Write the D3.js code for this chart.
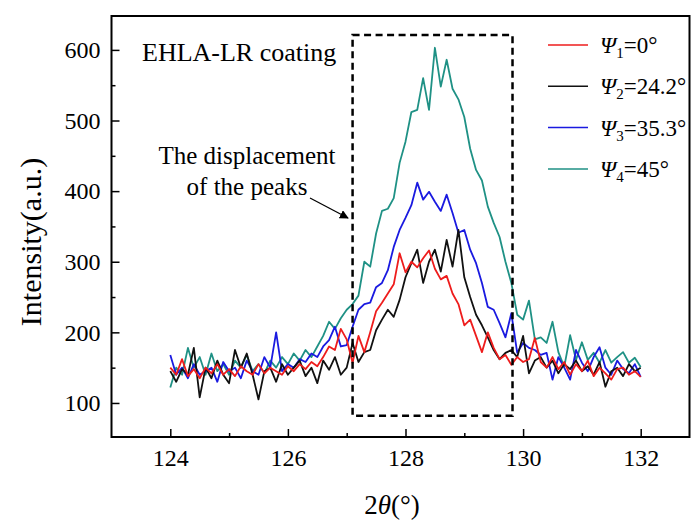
<!DOCTYPE html>
<html>
<head>
<meta charset="utf-8">
<script src="https://cdn.jsdelivr.net/npm/d3@7"></script>
<style>
  body { margin: 0; background: #fff; }
  .axis path.domain { display: none; }
  .axis line { stroke: #000; stroke-width: 1.5; }
</style>
</head>
<body>
<div id="chart"></div>
<script>
// 2theta positions (deg)
var twoTheta = [124.0,124.1,124.2,124.3,124.4,124.5,124.6,124.7,124.8,124.9,
  125.0,125.1,125.2,125.3,125.4,125.5,125.6,125.7,125.8,125.9,
  126.0,126.1,126.2,126.3,126.4,126.5,126.6,126.7,126.8,126.9,
  127.0,127.1,127.2,127.3,127.4,127.5,127.6,127.7,127.8,127.9,
  128.0,128.1,128.2,128.3,128.4,128.5,128.6,128.7,128.8,128.9,
  129.0,129.1,129.2,129.3,129.4,129.5,129.6,129.7,129.8,129.9,
  130.0,130.1,130.2,130.3,130.4,130.5,130.6,130.7,130.8,130.9,
  131.0,131.1,131.2,131.3,131.4,131.5,131.6,131.7,131.8,131.9,132.0];

var psi1 = [150,140,162,138,148,135,150,142,155,140,
  148,138,152,145,140,155,142,150,145,140,
  152,145,155,148,158,152,165,180,175,205,
  190,157,195,172,200,230,242,255,268,312,
  285,300,292,305,316,290,275,280,255,240,
  210,218,195,172,200,178,162,168,154,165,
  158,162,192,158,150,165,148,158,140,155,
  145,160,138,150,142,133,148,150,140,145,137];

var psi2 = [145,130,148,140,178,108,150,135,160,140,
  128,175,150,170,140,105,145,150,130,155,
  140,150,160,138,150,128,160,147,165,140,
  150,185,158,172,175,203,218,232,222,246,
  278,298,317,270,300,317,286,331,293,345,
  278,250,225,210,193,175,162,171,175,165,
  195,142,160,165,150,160,142,155,148,160,
  145,152,140,158,123,145,150,138,155,145,150];

var psi3 = [168,140,150,135,155,140,145,150,130,158,
  145,150,135,160,145,140,165,150,200,145,
  155,150,162,158,170,165,180,189,208,180,
  182,208,232,240,242,264,270,288,321,345,
  362,380,412,388,399,385,372,395,369,341,
  345,317,298,270,236,232,213,193,227,171,
  185,178,175,168,171,133,165,150,133,175,
  157,145,165,179,150,140,160,148,142,155,137];

var psi4 = [122,150,140,178,150,165,140,170,145,155,
  140,160,150,168,145,155,142,160,150,165,
  155,170,160,175,165,180,195,215,205,220,
  232,240,252,300,293,340,372,375,390,440,
  470,512,515,560,515,603,548,586,545,530,
  505,460,430,415,378,355,335,300,270,225,
  218,245,190,193,185,215,172,151,196,161,
  186,161,171,157,175,157,165,172,157,164,151];

var seriesNames = ["1", "2", "3", "4"];
var seriesAngles = ["0°", "24.2°", "35.3°", "45°"];
var seriesColors = ["#ee1c1c", "#111111", "#1a1ae0", "#1f9185"];
var seriesData = [psi1, psi2, psi3, psi4];

var xMajor = [124, 126, 128, 130, 132];
var xMinor = [125, 127, 129, 131];
var yMajor = [100, 200, 300, 400, 500, 600];
var yMinor = [150, 250, 350, 450, 550];

// dashed box around the peak region (data units)
var boxX = [127.1, 129.82];
var boxY = [82, 621];

var width = 691, height = 522;
var plotL = 111.5, plotR = 689.5, plotT = 16, plotB = 437;
var serif = "Liberation Serif";

var svg = d3.select("#chart").append("svg")
  .attr("width", width)
  .attr("height", height)
  .attr("font-family", serif);

var x = d3.scaleLinear().domain([123, 132.83]).range([plotL, plotR]);
var y = d3.scaleLinear().domain([51.8, 648]).range([plotB, plotT]);

// curves
var line = d3.line()
  .x(function(d, i) { return x(twoTheta[i]); })
  .y(function(d) { return y(d); });

var order = [3, 2, 1, 0];
order.forEach(function(k) {
  svg.append("path")
    .attr("d", line(seriesData[k]))
    .attr("fill", "none")
    .attr("stroke", seriesColors[k])
    .attr("stroke-width", 1.8)
    .attr("stroke-linejoin", "round");
});

// frame
svg.append("rect")
  .attr("x", plotL).attr("y", plotT)
  .attr("width", plotR - plotL).attr("height", plotB - plotT)
  .attr("fill", "none").attr("stroke", "#000").attr("stroke-width", 2);

// axes, ticks point inward
function styleAxis(g) {
  g.attr("font-family", serif).attr("font-size", 24);
  g.selectAll("text").attr("fill", "#000").attr("font-family", serif);
}
svg.append("g").attr("class", "axis")
  .attr("transform", "translate(0," + plotB + ")")
  .call(d3.axisBottom(x).tickValues(xMajor).tickSize(-8).tickPadding(12).tickFormat(d3.format("d")))
  .call(styleAxis);
svg.append("g").attr("class", "axis")
  .attr("transform", "translate(0," + plotB + ")")
  .call(d3.axisBottom(x).tickValues(xMinor).tickSize(-4).tickFormat(""));
svg.append("g").attr("class", "axis")
  .attr("transform", "translate(" + plotL + ",0)")
  .call(d3.axisLeft(y).tickValues(yMajor).tickSize(-8).tickPadding(11).tickFormat(d3.format("d")))
  .call(styleAxis);
svg.append("g").attr("class", "axis")
  .attr("transform", "translate(" + plotL + ",0)")
  .call(d3.axisLeft(y).tickValues(yMinor).tickSize(-4).tickFormat(""));

// dashed box
svg.append("rect")
  .attr("x", x(boxX[0])).attr("y", y(boxY[1]))
  .attr("width", x(boxX[1]) - x(boxX[0]))
  .attr("height", y(boxY[0]) - y(boxY[1]))
  .attr("fill", "none").attr("stroke", "#000")
  .attr("stroke-width", 2.5).attr("stroke-dasharray", "7,4.5");

// labels
svg.append("text").attr("x", 142).attr("y", 61)
  .attr("font-size", 26).text("EHLA-LR coating");

svg.append("text").attr("x", 247).attr("y", 164)
  .attr("text-anchor", "middle").attr("font-size", 25).text("The displacement");
svg.append("text").attr("x", 247).attr("y", 195)
  .attr("text-anchor", "middle").attr("font-size", 25).text("of the peaks");

svg.append("defs").append("marker")
  .attr("id", "arrow").attr("viewBox", "0 0 10 10")
  .attr("refX", 9).attr("refY", 5)
  .attr("markerWidth", 9).attr("markerHeight", 9)
  .attr("markerUnits", "userSpaceOnUse")
  .attr("orient", "auto")
  .append("path").attr("d", "M0,0L10,5L0,10z").attr("fill", "#000");

svg.append("line")
  .attr("x1", 310).attr("y1", 198).attr("x2", 348).attr("y2", 218)
  .attr("stroke", "#000").attr("stroke-width", 1.3)
  .attr("marker-end", "url(#arrow)");

// legend
var legend = svg.append("g");
seriesNames.forEach(function(name, i) {
  var ly = 45 + i * 41.3;
  legend.append("line")
    .attr("x1", 548).attr("x2", 588).attr("y1", ly).attr("y2", ly)
    .attr("stroke", seriesColors[i]).attr("stroke-width", 1.5);
  var t = legend.append("text").attr("x", 600).attr("y", ly + 8).attr("font-size", 23);
  t.append("tspan").attr("font-style", "italic").text("Ψ");
  t.append("tspan").attr("dy", 5).attr("font-size", 15).text(name);
  t.append("tspan").attr("dy", -5).text("=" + seriesAngles[i]);
});

// axis titles
svg.append("text")
  .attr("transform", "translate(41,242) rotate(-90)")
  .attr("text-anchor", "middle").attr("font-size", 30)
  .text("Intensity(a.u.)");

var xt = svg.append("text").attr("x", 392).attr("y", 514)
  .attr("text-anchor", "middle").attr("font-size", 27);
xt.append("tspan").text("2");
xt.append("tspan").attr("font-style", "italic").text("θ");
xt.append("tspan").text("(°)");
</script>
</body>
</html>
